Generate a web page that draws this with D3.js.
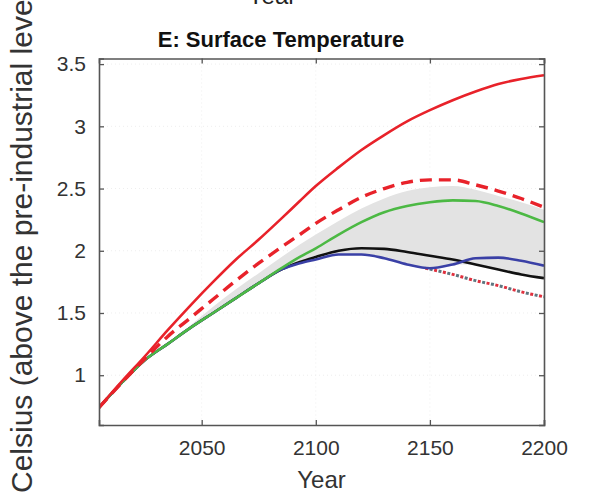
<!DOCTYPE html>
<html>
<head>
<meta charset="utf-8">
<script src="https://cdn.jsdelivr.net/npm/d3@7"></script>
<style>
  html, body { margin: 0; padding: 0; background: #fff; }
  svg { display: block; }
  text { font-family: "Liberation Sans", Arial, sans-serif; }
</style>
</head>
<body>
<svg id="chart" width="595" height="493"></svg>
<script>
// Surface temperature projections, degrees Celsius above pre-industrial
const years      = [2005, 2015, 2025, 2035, 2045, 2055, 2065, 2075, 2085, 2093, 2100, 2110, 2120, 2130, 2140, 2150, 2160, 2170, 2180, 2190, 2200];
const redSolid   = [0.74, 0.95, 1.15, 1.36, 1.56, 1.75, 1.93, 2.09, 2.26, 2.40, 2.52, 2.67, 2.81, 2.93, 3.04, 3.13, 3.21, 3.28, 3.34, 3.38, 3.41];
const redDashed  = [0.74, 0.94, 1.13, 1.31, 1.46, 1.61, 1.76, 1.90, 2.03, 2.13, 2.22, 2.33, 2.43, 2.50, 2.55, 2.57, 2.57, 2.53, 2.48, 2.42, 2.35];
const green      = [0.74, 0.94, 1.12, 1.25, 1.38, 1.50, 1.62, 1.74, 1.86, 1.95, 2.02, 2.13, 2.23, 2.31, 2.36, 2.39, 2.405, 2.40, 2.36, 2.30, 2.23];
const black      = [0.74, 0.94, 1.12, 1.25, 1.38, 1.50, 1.62, 1.74, 1.85, 1.91, 1.95, 2.00, 2.02, 2.015, 1.99, 1.96, 1.93, 1.89, 1.85, 1.81, 1.78];
const blue       = [0.74, 0.94, 1.12, 1.25, 1.38, 1.50, 1.62, 1.74, 1.85, 1.90, 1.93, 1.97, 1.97, 1.94, 1.89, 1.86, 1.89, 1.94, 1.945, 1.92, 1.88];

// Shaded range
const bandYears  = [2045, 2055, 2065, 2075, 2085, 2093, 2100, 2110, 2120, 2130, 2140, 2150, 2160, 2170, 2180, 2190, 2200];
const bandHigh   = [1.40, 1.55, 1.69, 1.82, 1.95, 2.05, 2.13, 2.24, 2.34, 2.42, 2.48, 2.51, 2.52, 2.49, 2.44, 2.39, 2.33];
const bandLow    = [1.38, 1.50, 1.62, 1.74, 1.85, 1.90, 1.93, 1.97, 1.97, 1.94, 1.89, 1.86, 1.89, 1.89, 1.85, 1.81, 1.78];

// Dotted continuation after 2148
const dotYears   = [2148, 2160, 2170, 2180, 2190, 2200];
const dotValues  = [1.86, 1.81, 1.76, 1.72, 1.67, 1.63];

const xTicks = [2050, 2100, 2150, 2200];
const yTicks = [1, 1.5, 2, 2.5, 3, 3.5];
const yTickLabels = ["1", "1.5", "2", "2.5", "3", "3.5"];

const svg = d3.select("#chart");
const W = 595, H = 493;
const plot = { left: 99, right: 544, top: 58.5, bottom: 425 };

const x = d3.scaleLinear().domain([2005, 2200]).range([plot.left, plot.right]);
const y = d3.scaleLinear().domain([0.6, 3.545]).range([plot.bottom, plot.top]);

svg.append("rect").attr("width", W).attr("height", H).attr("fill", "#fff");

const defs = svg.append("defs");
defs.append("clipPath").attr("id", "plotClip")
  .append("rect").attr("x", plot.left).attr("y", plot.top)
  .attr("width", plot.right - plot.left).attr("height", plot.bottom - plot.top);

// faint dotted grid
const grid = svg.append("g").attr("stroke", "#eeeeee").attr("stroke-width", 1).attr("stroke-dasharray", "1,3");
grid.selectAll("line.h").data(yTicks).join("line")
  .attr("x1", plot.left).attr("x2", plot.right)
  .attr("y1", d => y(d)).attr("y2", d => y(d));
grid.selectAll("line.v").data(xTicks.slice(0, -1)).join("line")
  .attr("y1", plot.top).attr("y2", plot.bottom)
  .attr("x1", d => x(d)).attr("x2", d => x(d));

const g = svg.append("g").attr("clip-path", "url(#plotClip)");

// shaded band
const band = bandYears.map((yr, i) => ({ yr, lo: bandLow[i], hi: bandHigh[i] }));
g.append("path")
  .datum(band)
  .attr("fill", "#e3e3e3")
  .attr("d", d3.area().curve(d3.curveMonotoneX)
    .x(d => x(d.yr)).y0(d => y(d.lo)).y1(d => y(d.hi)));

const line = d3.line().curve(d3.curveMonotoneX).x(d => x(d[0])).y(d => y(d[1]));
const pts = vals => years.map((yr, i) => [yr, vals[i]]);

// dotted line with alternating red and grey dots
const dotPts = dotYears.map((yr, i) => [yr, dotValues[i]]);
[["#e0303e", 0], ["#5e7680", 4.5]].forEach(([c, off]) => {
  g.append("path").datum(dotPts)
    .attr("fill", "none").attr("stroke", c).attr("stroke-width", 3)
    .attr("stroke-dasharray", "3,6").attr("stroke-dashoffset", -off)
    .attr("d", line);
});

g.append("path").datum(pts(black))
  .attr("fill", "none").attr("stroke", "#111").attr("stroke-width", 2.6).attr("d", line);
g.append("path").datum(pts(blue))
  .attr("fill", "none").attr("stroke", "#3a40a6").attr("stroke-width", 2.6).attr("d", line);
g.append("path").datum(pts(green))
  .attr("fill", "none").attr("stroke", "#4cb944").attr("stroke-width", 2.6).attr("d", line);
g.append("path").datum(pts(redDashed))
  .attr("fill", "none").attr("stroke", "#e8222a").attr("stroke-width", 3.4)
  .attr("stroke-dasharray", "12,7").attr("d", line);
g.append("path").datum(pts(redSolid))
  .attr("fill", "none").attr("stroke", "#e8222a").attr("stroke-width", 2.6).attr("d", line);

// axes box with inward ticks on all sides
const axisColor = "#555";
const tickLen = 5;
const axes = svg.append("g");
axes.append("g").attr("transform", `translate(0,${plot.bottom})`)
  .call(d3.axisBottom(x).tickValues(xTicks).tickSize(-tickLen).tickFormat(d3.format("d")).tickPadding(15));
axes.append("g").attr("transform", `translate(0,${plot.top})`)
  .call(d3.axisTop(x).tickValues(xTicks).tickSize(-tickLen).tickFormat(""));
axes.append("g").attr("transform", `translate(${plot.left},0)`)
  .call(d3.axisLeft(y).tickValues(yTicks).tickSize(-tickLen).tickPadding(13)
    .tickFormat((d, i) => yTickLabels[i]));
axes.append("g").attr("transform", `translate(${plot.right},0)`)
  .call(d3.axisRight(y).tickValues(yTicks).tickSize(-tickLen).tickFormat(""));
axes.selectAll(".domain").attr("stroke", axisColor).attr("stroke-width", 1.6);
axes.selectAll(".tick line").attr("stroke", axisColor).attr("stroke-width", 1.3);
axes.selectAll(".tick text")
  .attr("fill", "#333").style("font-size", "21px")
  .style("font-family", "'Liberation Sans', Arial, sans-serif");

// titles and labels
svg.append("text")
  .attr("x", 281).attr("y", 47)
  .attr("text-anchor", "middle")
  .style("font-size", "22px").style("font-weight", "bold").attr("fill", "#111")
  .text("E: Surface Temperature");

// x-axis label of the panel above, cut by the top edge
svg.append("text")
  .attr("x", 272).attr("y", 3.5)
  .attr("text-anchor", "middle")
  .style("font-size", "24px").attr("fill", "#222")
  .text("Year");

svg.append("text")
  .attr("x", 321.5).attr("y", 488)
  .attr("text-anchor", "middle")
  .style("font-size", "24px").attr("fill", "#333")
  .text("Year");

svg.append("text")
  .attr("transform", "translate(32,493) rotate(-90)")
  .attr("text-anchor", "start")
  .style("font-size", "30px").attr("fill", "#333")
  .text("Celsius (above the pre-industrial level)");
</script>
</body>
</html>
